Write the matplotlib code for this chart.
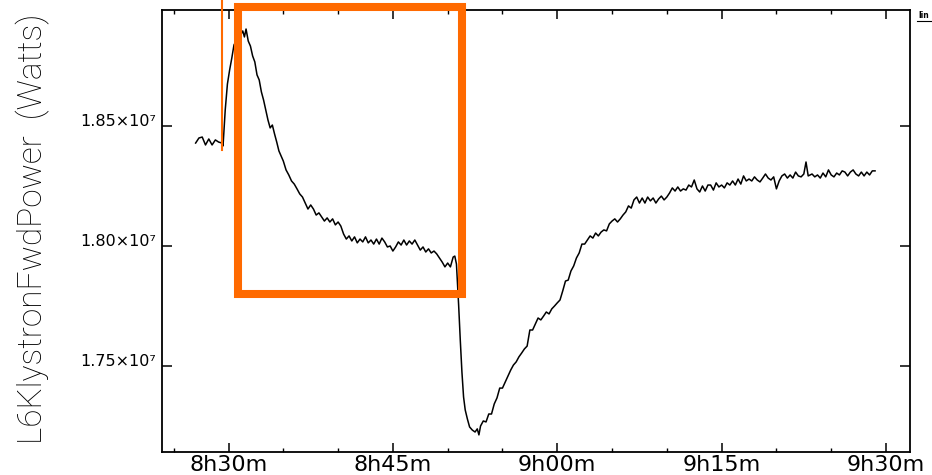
import matplotlib
matplotlib.use("Agg")
import matplotlib.pyplot as plt
from matplotlib.patches import Rectangle
from matplotlib.ticker import FixedLocator, FixedFormatter, MultipleLocator

# time in minutes after 8h00, power in MW
time_min = [27.0, 27.3, 27.6, 27.9, 28.2, 28.5, 28.8, 29.1, 29.4, 29.5, 29.7, 29.9,
            30.1, 30.3, 30.5, 30.7, 30.9, 31.1, 31.3, 31.45, 31.6, 31.8, 32.0, 32.2,
            32.4, 32.6, 32.8, 33.0, 33.2, 33.4, 33.6, 33.8, 34.0, 34.2, 34.4, 34.6,
            34.8, 35.0, 35.25, 35.5, 35.75, 36.0, 36.25, 36.5, 36.75, 37.0, 37.25, 37.5,
            37.75, 38.0, 38.25, 38.5, 38.75, 39.0, 39.25, 39.5, 39.75, 40.0, 40.25, 40.5,
            40.75, 41.0, 41.25, 41.5, 41.75, 42.0, 42.25, 42.5, 42.75, 43.0, 43.25, 43.5,
            43.75, 44.0, 44.25, 44.5, 44.75, 45.0, 45.25, 45.5, 45.75, 46.0, 46.25, 46.5,
            46.75, 47.0, 47.25, 47.5, 47.75, 48.0, 48.25, 48.5, 48.75, 49.0, 49.25, 49.5,
            49.75, 50.0, 50.25, 50.5, 50.65, 50.8, 50.9, 51.0, 51.15, 51.3, 51.45, 51.6,
            51.8, 52.0, 52.25, 52.5, 52.7, 52.85, 53.0, 53.25, 53.5, 53.75, 54.0, 54.25,
            54.5, 54.75, 55.0, 55.25, 55.5, 55.75, 56.0, 56.25, 56.5, 56.75, 57.0, 57.25,
            57.5, 57.75, 58.0, 58.25, 58.5, 58.75, 59.0, 59.25, 59.5, 59.75, 60.0, 60.25,
            60.5, 60.75, 61.0, 61.25, 61.5, 61.75, 62.0, 62.25, 62.5, 62.75, 63.0, 63.25,
            63.5, 63.75, 64.0, 64.25, 64.5, 64.75, 65.0, 65.25, 65.5, 65.75, 66.0, 66.25,
            66.5, 66.75, 67.0, 67.25, 67.5, 67.75, 68.0, 68.25, 68.5, 68.75, 69.0, 69.25,
            69.5, 69.75, 70.0, 70.25, 70.5, 70.75, 71.0, 71.25, 71.5, 71.75, 72.0, 72.25,
            72.5, 72.75, 73.0, 73.25, 73.5, 73.75, 74.0, 74.25, 74.5, 74.75, 75.0, 75.25,
            75.5, 75.75, 76.0, 76.25, 76.5, 76.75, 77.0, 77.25, 77.5, 77.75, 78.0, 78.25,
            78.5, 78.75, 79.0, 79.25, 79.5, 79.75, 80.0, 80.25, 80.5, 80.75, 81.0, 81.25,
            81.5, 81.75, 82.0, 82.25, 82.5, 82.7, 82.9, 83.25, 83.5, 83.75, 84.0, 84.25,
            84.5, 84.75, 85.0, 85.25, 85.5, 85.75, 86.0, 86.25, 86.5, 86.75, 87.0, 87.25,
            87.5, 87.75, 88.0, 88.25, 88.5, 88.75, 89.0]

power_mw = [18.429, 18.450, 18.454, 18.421, 18.446, 18.421, 18.442, 18.433, 18.429, 18.417, 18.567, 18.675,
            18.733, 18.783, 18.838, 18.854, 18.871, 18.879, 18.896, 18.871, 18.904, 18.854, 18.833, 18.792,
            18.767, 18.713, 18.692, 18.642, 18.608, 18.567, 18.525, 18.492, 18.504, 18.467, 18.433, 18.396,
            18.375, 18.354, 18.317, 18.296, 18.271, 18.258, 18.238, 18.217, 18.204, 18.179, 18.154, 18.171,
            18.154, 18.129, 18.138, 18.121, 18.104, 18.117, 18.100, 18.113, 18.088, 18.100, 18.083, 18.050,
            18.029, 18.042, 18.021, 18.038, 18.013, 18.029, 18.017, 18.038, 18.013, 18.025, 18.008, 18.029,
            18.008, 18.033, 18.017, 17.996, 18.000, 17.979, 17.996, 18.017, 18.004, 18.025, 18.004, 18.021,
            18.008, 18.025, 18.004, 17.983, 17.996, 17.975, 17.988, 17.971, 17.979, 17.967, 17.950, 17.933,
            17.913, 17.929, 17.913, 17.954, 17.958, 17.925, 17.838, 17.754, 17.608, 17.475, 17.371, 17.317,
            17.279, 17.246, 17.233, 17.225, 17.238, 17.213, 17.250, 17.271, 17.267, 17.300, 17.300, 17.342,
            17.367, 17.408, 17.408, 17.433, 17.458, 17.483, 17.504, 17.517, 17.538, 17.554, 17.571, 17.583,
            17.650, 17.650, 17.675, 17.700, 17.692, 17.708, 17.725, 17.717, 17.738, 17.750, 17.763, 17.775,
            17.813, 17.854, 17.858, 17.896, 17.917, 17.950, 17.971, 18.008, 18.008, 18.025, 18.042, 18.033,
            18.054, 18.042, 18.058, 18.067, 18.063, 18.092, 18.104, 18.113, 18.100, 18.113, 18.129, 18.142,
            18.167, 18.158, 18.192, 18.204, 18.179, 18.200, 18.179, 18.204, 18.188, 18.200, 18.179, 18.196,
            18.208, 18.192, 18.204, 18.221, 18.242, 18.229, 18.246, 18.229, 18.238, 18.233, 18.254, 18.246,
            18.275, 18.238, 18.225, 18.250, 18.229, 18.254, 18.254, 18.233, 18.263, 18.246, 18.254, 18.242,
            18.263, 18.254, 18.271, 18.254, 18.279, 18.258, 18.292, 18.271, 18.279, 18.271, 18.288, 18.275,
            18.267, 18.283, 18.300, 18.283, 18.275, 18.288, 18.238, 18.271, 18.292, 18.300, 18.283, 18.296,
            18.283, 18.308, 18.292, 18.288, 18.300, 18.350, 18.292, 18.300, 18.288, 18.296, 18.283, 18.304,
            18.288, 18.317, 18.296, 18.288, 18.304, 18.296, 18.313, 18.308, 18.292, 18.308, 18.317, 18.300,
            18.292, 18.308, 18.292, 18.308, 18.296, 18.313, 18.313]

x_major_ticks = [30, 45, 60, 75, 90]
x_tick_labels = ["8h30m", "8h45m", "9h00m", "9h15m", "9h30m"]
y_ticks = [1.75e7, 1.80e7, 1.85e7]
y_tick_labels = ["1.75×10⁷", "1.80×10⁷", "1.85×10⁷"]
y_label = "L6KlystronFwdPower  (Watts)"

# highlight box (minutes, MW) and marker line
box_t = [30.87, 51.31]
box_p = [17.798, 18.996]
marker_t = 29.41
marker_p = [18.40, 19.03]

plt.rcParams['ytick.alignment'] = 'baseline'

fig = plt.figure(figsize=(9.32, 4.75), dpi=100)
ax = fig.add_axes([162/932, 23/475, 748/932, 442/475])

ax.plot(time_min, [p * 1e6 for p in power_mw], color='black', lw=1.1)

ax.set_xlim(23.93, 92.19)
ax.set_ylim(1.71417e7, 1.89833e7)

ax.xaxis.set_major_locator(FixedLocator(x_major_ticks))
ax.xaxis.set_major_formatter(FixedFormatter(x_tick_labels))
ax.xaxis.set_minor_locator(MultipleLocator(5))
ax.yaxis.set_major_locator(FixedLocator(y_ticks))
ax.yaxis.set_major_formatter(FixedFormatter(y_tick_labels))

ax.tick_params(axis='x', which='major', direction='in', length=6.5, width=1.1,
               top=True, bottom=True, labelsize=16, pad=2)
ax.tick_params(axis='x', which='minor', direction='in', length=3.2, width=1.0,
               top=True, bottom=True)
ax.tick_params(axis='y', which='major', direction='in', length=7.2, width=1.1,
               left=True, right=True, labelsize=11.5, pad=4)
for lab in ax.get_xticklabels():
    lab.set_fontfamily('DejaVu Sans')

for s in ax.spines.values():
    s.set_linewidth(1.3)

fig.text(33/932, 1 - 228.5/475, y_label, rotation=90, ha='center', va='center',
         fontsize=24, family=['Roboto', 'DejaVu Sans'], fontweight='light')

orange = '#FF6A00'
ax.add_patch(Rectangle((box_t[0], box_p[0] * 1e6), box_t[1] - box_t[0],
                       (box_p[1] - box_p[0]) * 1e6, fill=False, edgecolor=orange,
                       lw=5.8, clip_on=False, zorder=5))
ax.plot([marker_t, marker_t], [marker_p[0] * 1e6, marker_p[1] * 1e6], color=orange,
        lw=1.5, clip_on=False, zorder=5)

fig.text(918/932, 1 - 15/475, "lin", fontsize=5.5, fontweight='bold', ha='left', va='center')
fig.add_artist(plt.Line2D([917/932, 932/932], [1 - 21/475, 1 - 21/475], color='black', lw=0.8))

fig.savefig("out.png", dpi=100)
